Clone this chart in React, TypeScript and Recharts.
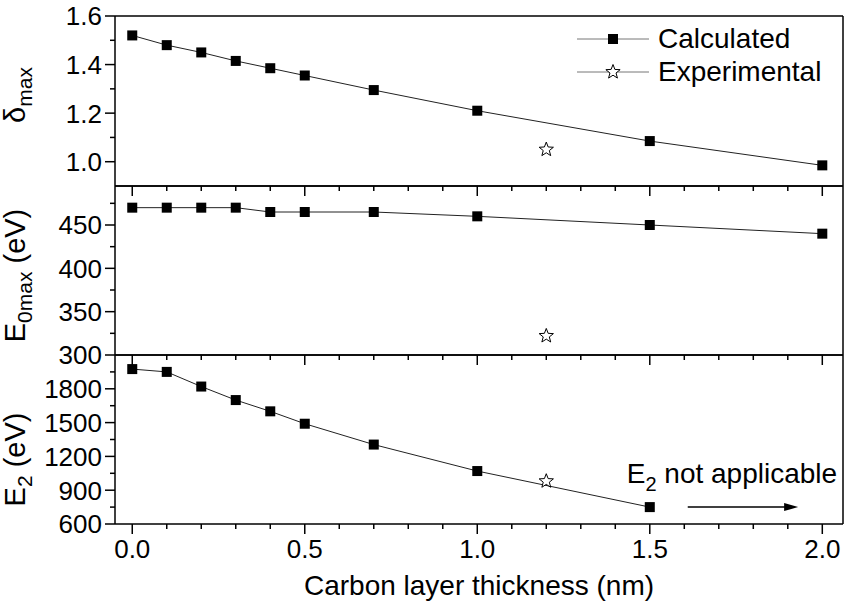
import React from "react";
import {
  ComposedChart,
  Line,
  Scatter,
  XAxis,
  YAxis,
  Legend,
  ReferenceLine,
  Label,
} from "recharts";

// carbon layer thickness (nm)
const thickness = [0, 0.1, 0.2, 0.3, 0.4, 0.5, 0.7, 1.0, 1.5, 2.0];
const deltaMaxCalc = [1.52, 1.48, 1.45, 1.415, 1.385, 1.355, 1.295, 1.21, 1.085, 0.985];
const e0maxCalc = [470, 470, 470, 470, 465, 465, 465, 460, 450, 440];
const e2Calc = [1975, 1950, 1820, 1700, 1600, 1490, 1305, 1070, 750]; // none at 2.0 nm

const expThickness = [1.2];
const deltaMaxExp = [1.05];
const e0maxExp = [322];
const e2Exp = [980];

const xTicks = [0, 0.1, 0.2, 0.3, 0.4, 0.5, 0.6, 0.7, 0.8, 0.9, 1.0, 1.1, 1.2, 1.3, 1.4, 1.5, 1.6, 1.7, 1.8, 1.9, 2.0];
const xMajor = [0, 0.5, 1.0, 1.5, 2.0];
const deltaTicks = [1.0, 1.1, 1.2, 1.3, 1.4, 1.5, 1.6];
const deltaMajor = [1.0, 1.2, 1.4, 1.6];
const e0Ticks = [300, 325, 350, 375, 400, 425, 450, 475];
const e0Major = [300, 350, 400, 450];
const e2Ticks = [600, 750, 900, 1050, 1200, 1350, 1500, 1650, 1800, 1950];
const e2Major = [600, 900, 1200, 1500, 1800];

// "E2 not applicable" arrow, in data units of the bottom panel
const arrowFrom = 1.61;
const arrowTo = 1.93;
const arrowLevel = 750;

const FONT = "'Liberation Sans', Arial, sans-serif";
const W = 845;
const H = 604;
const xDomain: [number, number] = [-0.05, 2.06];

const toPoints = (xs: number[], ys: number[]) => ys.map((y, i) => ({ x: xs[i], y }));

const starPath = (cx: number, cy: number, r: number, ri: number) => {
  let d = "";
  for (let i = 0; i < 10; i++) {
    const rad = i % 2 === 0 ? r : ri;
    const a = -Math.PI / 2 + (i * Math.PI) / 5;
    d += (i === 0 ? "M" : "L") + (cx + rad * Math.cos(a)).toFixed(2) + "," + (cy + rad * Math.sin(a)).toFixed(2);
  }
  return d + "Z";
};

const SquareDot = (props: any) => {
  const { cx, cy, index } = props;
  if (cx == null || cy == null) return <g key={index} />;
  return <rect key={index} x={cx - 5} y={cy - 5} width={10} height={10} fill="#000" />;
};

const StarShape = (props: any) => {
  const { cx, cy } = props;
  return <path d={starPath(cx, cy, 7.5, 3.2)} fill="#fff" stroke="#000" strokeWidth={1} />;
};

const makeYTick = (major: number[], fmt: (v: number) => string) => (props: any) => {
  const { x, y, payload } = props;
  const isMajor = major.includes(payload.value);
  return (
    <g>
      <line x1={x - (isMajor ? 10 : 5)} x2={x} y1={y} y2={y} stroke="#000" strokeWidth={1.5} />
      {isMajor && (
        <text x={x - 13} y={y} dy="0.36em" textAnchor="end" fontSize={26} fontFamily={FONT} fill="#000">
          {fmt(payload.value)}
        </text>
      )}
    </g>
  );
};

const makeXTick = (showLabels: boolean) => (props: any) => {
  const { x, y, payload } = props;
  const isMajor = xMajor.some((m) => Math.abs(m - payload.value) < 1e-6);
  return (
    <g>
      <line x1={x} x2={x} y1={y} y2={y + (isMajor ? 10 : 5)} stroke="#000" strokeWidth={1.5} />
      {showLabels && isMajor && (
        <text x={x} y={y + 34} textAnchor="middle" fontSize={26} fontFamily={FONT} fill="#000">
          {payload.value.toFixed(1)}
        </text>
      )}
    </g>
  );
};

const makeYTitle = (main: string, sub: string, rest: string, shift: number) => (props: any) => {
  const { viewBox } = props;
  const bx = viewBox.x + viewBox.width - 90;
  const cy = viewBox.y + viewBox.height / 2 + shift;
  return (
    <text
      x={bx}
      y={cy}
      transform={`rotate(-90, ${bx}, ${cy})`}
      textAnchor="middle"
      fontSize={29}
      fontFamily={FONT}
      fill="#000"
    >
      {main}
      <tspan dy={7} fontSize={21}>
        {sub}
      </tspan>
      {rest && <tspan dy={-7}>{rest}</tspan>}
    </text>
  );
};

const LegendContent = () => (
  <div style={{ fontFamily: FONT, fontSize: 28, lineHeight: "33px", color: "#000" }}>
    <div style={{ display: "flex", alignItems: "center" }}>
      <svg width={72} height={20} style={{ marginRight: 9 }}>
        <line x1={0} x2={72} y1={10} y2={10} stroke="#777" strokeWidth={1} />
        <rect x={31} y={5} width={10} height={10} fill="#000" />
      </svg>
      Calculated
    </div>
    <div style={{ display: "flex", alignItems: "center" }}>
      <svg width={72} height={20} style={{ marginRight: 9 }}>
        <line x1={0} x2={72} y1={10} y2={10} stroke="#777" strokeWidth={1} />
        <path d={starPath(36, 10, 7.5, 3.2)} fill="#fff" stroke="#000" strokeWidth={1} />
      </svg>
      Experimental
    </div>
  </div>
);

const ArrowNote = (props: any) => {
  const { x1, y1, x2, y2 } = props;
  return (
    <g>
      <line x1={x1} y1={y1} x2={x2 - 12} y2={y2} stroke="#000" strokeWidth={1.5} />
      <path d={`M${x2},${y2} L${x2 - 14},${y2 - 4} L${x2 - 14},${y2 + 4} Z`} fill="#000" />
      <text x={x1 - 61} y={y1 - 24} fontSize={28} fontFamily={FONT} fill="#000">
        E
        <tspan dy={8} fontSize={20}>
          2
        </tspan>
        <tspan dy={-8}>{" not applicable"}</tspan>
      </text>
    </g>
  );
};

interface PanelProps {
  top: number;
  bottom: number;
  calc: { x: number; y: number }[];
  exp: { x: number; y: number }[];
  yDomain: [number, number];
  yTicks: number[];
  yMajor: number[];
  fmt: (v: number) => string;
  title: [string, string, string, number];
  bottomAxis?: boolean;
  children?: React.ReactNode;
}

// axes need a non-zero size to be drawn, so each gets 1px and the margins give it back
function Panel({ top, bottom, calc, exp, yDomain, yTicks, yMajor, fmt, title, bottomAxis, children }: PanelProps) {
  return (
    <div style={{ position: "absolute", top: 0, left: 0 }}>
      <ComposedChart width={W} height={H} margin={{ top: top - 1, bottom: H - bottom - 1, left: 114, right: 1 }}>
        <XAxis
          dataKey="x"
          type="number"
          domain={xDomain}
          ticks={xTicks}
          interval={0}
          height={1}
          tickSize={0}
          tickMargin={0}
          tickLine={false}
          axisLine={{ stroke: "#000", strokeWidth: 1.5 }}
          tick={makeXTick(!!bottomAxis)}
          allowDataOverflow
        >
          {bottomAxis && (
            <Label
              value="Carbon layer thickness (nm)"
              position="bottom"
              offset={50}
              style={{ fontSize: 28, fontFamily: FONT, fill: "#000" }}
            />
          )}
        </XAxis>
        <XAxis
          xAxisId="top"
          orientation="top"
          type="number"
          domain={xDomain}
          height={1}
          tick={false}
          tickLine={false}
          axisLine={{ stroke: "#000", strokeWidth: 1.5 }}
        />
        <YAxis
          dataKey="y"
          type="number"
          domain={yDomain}
          ticks={yTicks}
          interval={0}
          width={1}
          tickSize={0}
          tickMargin={0}
          tickLine={false}
          axisLine={{ stroke: "#000", strokeWidth: 1.5 }}
          tick={makeYTick(yMajor, fmt)}
          allowDataOverflow
        >
          <Label content={makeYTitle(title[0], title[1], title[2], title[3])} />
        </YAxis>
        <YAxis
          yAxisId="right"
          orientation="right"
          type="number"
          domain={yDomain}
          width={1}
          tick={false}
          tickLine={false}
          axisLine={{ stroke: "#000", strokeWidth: 1.5 }}
        />
        <Line
          data={calc}
          dataKey="y"
          name="Calculated"
          stroke="#222"
          strokeWidth={1}
          dot={SquareDot}
          activeDot={false}
          isAnimationActive={false}
        />
        <Scatter data={exp} dataKey="y" name="Experimental" shape={StarShape} isAnimationActive={false} />
        {children}
      </ComposedChart>
    </div>
  );
}

export default function App() {
  return (
    <div style={{ position: "absolute", top: 0, left: 0, width: W, height: H, background: "#fff" }}>
      <Panel
        top={16}
        bottom={186}
        calc={toPoints(thickness, deltaMaxCalc)}
        exp={toPoints(expThickness, deltaMaxExp)}
        yDomain={[0.9, 1.6]}
        yTicks={deltaTicks}
        yMajor={deltaMajor}
        fmt={(v) => v.toFixed(1)}
        title={["δ", "max", "", -6]}
      />
      <Panel
        top={186}
        bottom={355}
        calc={toPoints(thickness, e0maxCalc)}
        exp={toPoints(expThickness, e0maxExp)}
        yDomain={[300, 495]}
        yTicks={e0Ticks}
        yMajor={e0Major}
        fmt={(v) => String(v)}
        title={["E", "0max", " (eV)", 5]}
      />
      <Panel
        top={355}
        bottom={524}
        calc={toPoints(thickness, e2Calc)}
        exp={toPoints(expThickness, e2Exp)}
        yDomain={[600, 2100]}
        yTicks={e2Ticks}
        yMajor={e2Major}
        fmt={(v) => String(v)}
        title={["E", "2", " (eV)", 20]}
        bottomAxis
      >
        <ReferenceLine
          segment={[
            { x: arrowFrom, y: arrowLevel },
            { x: arrowTo, y: arrowLevel },
          ]}
          shape={ArrowNote}
        />
      </Panel>
      <div style={{ position: "absolute", top: 0, left: 0 }}>
        <ComposedChart width={W} height={H} margin={{ top: 16, bottom: H - 186, left: 115, right: 2 }}>
          <XAxis type="number" dataKey="x" domain={xDomain} hide />
          <YAxis type="number" dataKey="y" domain={[0.9, 1.6]} hide />
          <Legend
            layout="vertical"
            align="center"
            verticalAlign="middle"
            wrapperStyle={{ top: 22, left: 577, width: 260 }}
            content={LegendContent}
          />
        </ComposedChart>
      </div>
    </div>
  );
}
